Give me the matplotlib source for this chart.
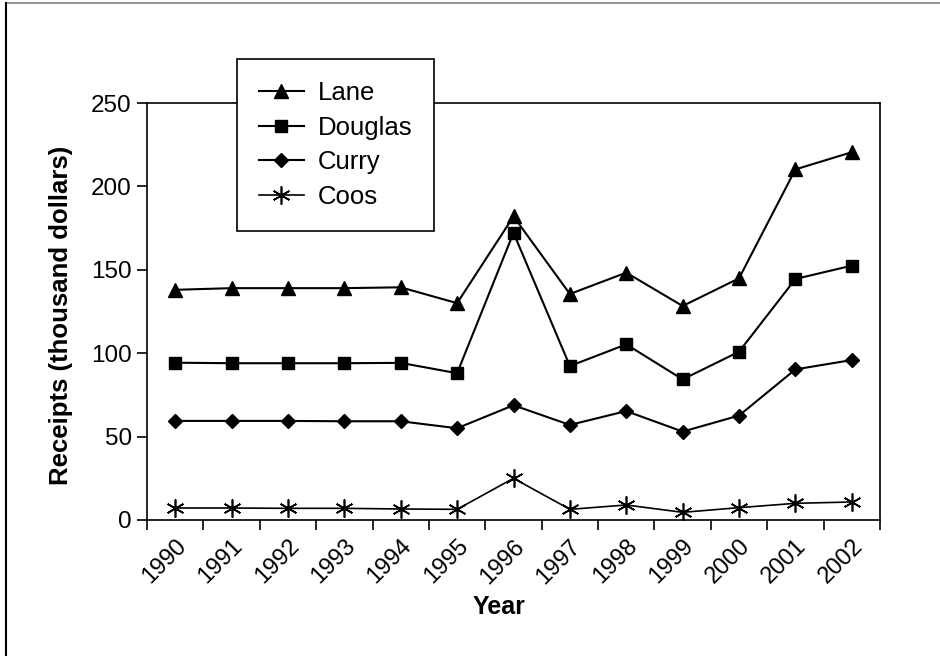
import numpy as np
import matplotlib
matplotlib.use("Agg")
import matplotlib.pyplot as plt
from matplotlib.lines import Line2D

plt.rcParams['font.family'] = ['Liberation Sans', 'DejaVu Sans']

years = ['1990', '1991', '1992', '1993', '1994', '1995', '1996',
         '1997', '1998', '1999', '2000', '2001', '2002']
lane = [138, 139, 139, 139, 139.5, 130, 182, 135.5, 148.3, 128.3, 144.9, 210.2, 220.5]
douglas = [94.3, 94, 94, 94, 94.2, 88, 172.2, 92.3, 105.3, 84.3, 100.9, 144.5, 152.5]
curry = [59.4, 59.4, 59.4, 59.2, 59.2, 55, 68.8, 57, 65.3, 53, 62.6, 90.3, 95.9]
coos = [7.2, 7.2, 7, 7, 6.6, 6.4, 25, 6.4, 9, 4.6, 7.4, 10, 10.8]

fig = plt.figure(figsize=(9.4, 6.56), dpi=100)
ax = fig.add_axes([147 / 940, 1 - 520 / 656, 733 / 940, 417 / 656])

x = np.arange(len(years))
ax.plot(x, lane, color='black', lw=1.5, marker='^', ms=9.5, label='Lane')
ax.plot(x, douglas, color='black', lw=1.5, marker='s', ms=9, label='Douglas')
ax.plot(x, curry, color='black', lw=1.5, marker='D', ms=7.5, label='Curry')
ax.plot(x, coos, color='black', lw=1.2, marker=(6, 2, 0), ms=13, mew=1.2, label='Coos')

ax.set_xlim(-0.5, len(years) - 0.5)
ax.set_ylim(0, 250)
ax.set_yticks([0, 50, 100, 150, 200, 250])
ax.set_xticks(np.arange(len(years) + 1) - 0.5)
ax.set_xticklabels([])
ax.set_xticks(x, minor=True)
ax.set_xticklabels(years, minor=True, rotation=45, ha='right', va='top',
                   rotation_mode='anchor')
ax.tick_params(axis='x', which='major', length=7, width=1.2, direction='out')
ax.tick_params(axis='x', which='minor', length=0, pad=11, labelsize=17)
ax.tick_params(axis='y', length=7, width=1.2, direction='out', labelsize=17.5, pad=4)
for s in ax.spines.values():
    s.set_linewidth(1.2)

ax.set_ylabel('Receipts (thousand dollars)', fontsize=18.5, fontweight='bold')
ax.yaxis.set_label_coords(-74 / 733, 0.49)
ax.set_xlabel('Year', fontsize=18, fontweight='bold')
ax.xaxis.set_label_coords(352 / 733, -87 / 417)
ax.xaxis.label.set_va('center')

leg = fig.legend(loc='upper left', bbox_to_anchor=(237 / 940, 1 - 59 / 656),
                 fontsize=18.5, frameon=True, fancybox=False, framealpha=1,
                 edgecolor='black', handlelength=1.75, borderpad=0.85,
                 labelspacing=0.42, handletextpad=0.55, borderaxespad=0)
leg.get_frame().set_linewidth(1.2)

# figure border (top and left only)
fig.add_artist(Line2D([6 / 940, 1], [1 - 3 / 656, 1 - 3 / 656], color='#808080', lw=1.2))
fig.add_artist(Line2D([6 / 940, 6 / 940], [0, 1 - 3 / 656], color='black', lw=1.5))

fig.savefig('out.png', dpi=100)
